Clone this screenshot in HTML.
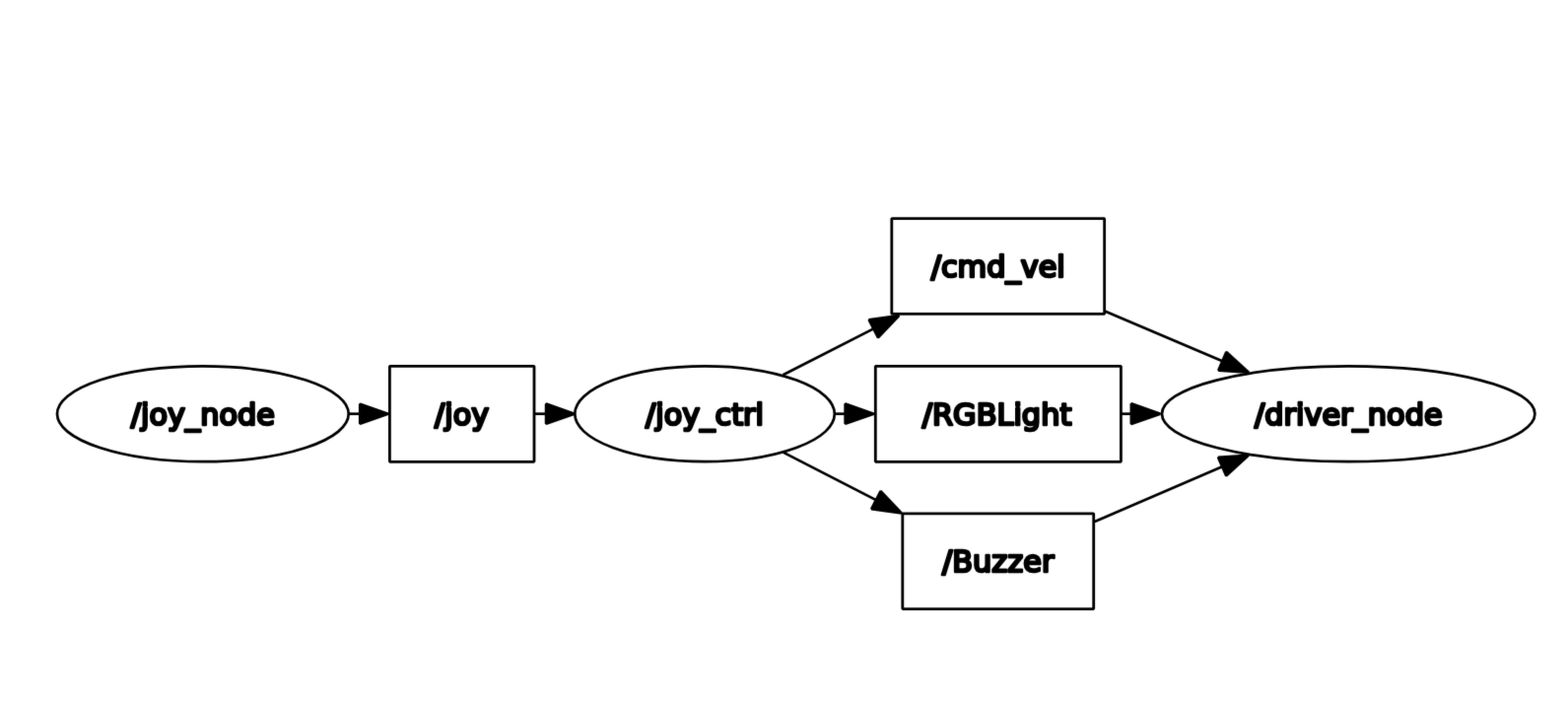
<!DOCTYPE html>
<html lang="en">
<head>
<meta charset="utf-8">
<title>rqt_graph</title>
<style>
html,body{margin:0;padding:0;background:#fff;}
body{width:1591px;height:715px;overflow:hidden;}
svg{display:block;will-change:transform;}
.e{fill:none;stroke:#000;stroke-width:2.69;stroke-linecap:butt;}
.a{fill:#000;stroke:#000;stroke-width:2.69;stroke-linejoin:bevel;}
.n{fill:#fff;stroke:#000;stroke-width:2.69;stroke-linejoin:bevel;}
rect.n{stroke-width:2.8;}
.t{font-family:"DejaVu Sans","Liberation Sans",sans-serif;font-size:30.3px;fill:#000;stroke:#000;stroke-width:2.7;stroke-linejoin:round;stroke-linecap:round;text-anchor:middle;letter-spacing:0.05px;}
</style>
</head>
<body>
<svg width="1591" height="715" viewBox="0 0 1591 715">
<defs><filter id="soft" filterUnits="userSpaceOnUse" x="0" y="0" width="1591" height="715" color-interpolation-filters="sRGB"><feConvolveMatrix order="3" kernelMatrix="0.00810 0.07380 0.00810 0.07380 0.67240 0.07380 0.00810 0.07380 0.00810" divisor="1" bias="0" edgeMode="duplicate" preserveAlpha="true"/></filter></defs>
<rect x="0" y="0" width="1591" height="715" fill="#fff"/>
<g id="graph" filter="url(#soft)">
<rect x="0" y="0" width="1591" height="715" fill="#fff"/>
<g id="edges">
<path class="e" d="M353.70,419.70 L365.25,419.70"/>
<polygon class="a" points="365.25,419.70 365.25,429.68 393.75,419.70 365.25,409.72"/>
<path class="e" d="M542.00,419.70 L554.10,419.70"/>
<polygon class="a" points="554.10,419.70 554.10,429.76 582.85,419.70 554.10,409.64"/>
<path class="e" d="M846.65,419.70 L857.65,419.70"/>
<polygon class="a" points="857.65,419.70 857.65,429.81 886.55,419.70 857.65,409.58"/>
<path class="e" d="M1137.40,419.70 L1147.85,419.70"/>
<polygon class="a" points="1147.85,419.70 1147.85,430.02 1177.35,419.70 1147.85,409.38"/>
<path class="e" d="M794.50,380.30 L886.38,333.38"/>
<polygon class="a" points="886.38,333.38 891.00,342.42 912.21,320.19 881.76,324.34"/>
<path class="e" d="M795.00,458.90 L888.93,507.12"/>
<polygon class="a" points="888.93,507.12 884.29,516.15 914.73,520.36 893.57,498.09"/>
<path class="e" d="M1121.50,315.70 L1240.35,366.29"/>
<polygon class="a" points="1240.35,366.29 1236.37,375.63 1267.03,377.65 1244.33,356.95"/>
<path class="e" d="M1110.80,529.00 L1240.15,473.22"/>
<polygon class="a" points="1240.15,473.22 1244.17,482.54 1266.78,461.74 1236.13,463.90"/>
</g>
<g id="nodes">
<ellipse class="n" cx="205.85" cy="419.80" rx="147.85" ry="48.40"/>
<text class="t" x="205.85" y="430.90">/joy_node</text>
<rect class="n" x="395.40" y="371.30" width="146.60" height="97.00"/>
<text class="t" x="468.70" y="430.90">/joy</text>
<ellipse class="n" cx="715.05" cy="419.80" rx="131.75" ry="48.40"/>
<text class="t" x="715.05" y="430.90">/joy_ctrl</text>
<rect class="n" x="904.80" y="221.60" width="215.85" height="96.80"/>
<text class="t" x="1012.73" y="281.30">/cmd_vel</text>
<rect class="n" x="888.30" y="371.30" width="249.10" height="97.00"/>
<text class="t" x="1011.55" y="430.60">/RGBLight</text>
<rect class="n" x="915.80" y="520.80" width="193.90" height="96.80"/>
<text class="t" x="1012.75" y="579.90">/Buzzer</text>
<ellipse class="n" cx="1368.18" cy="419.80" rx="189.23" ry="48.40"/>
<text class="t" x="1368.28" y="430.90">/driver_node</text>
</g>
</g>
</svg>
</body>
</html>
